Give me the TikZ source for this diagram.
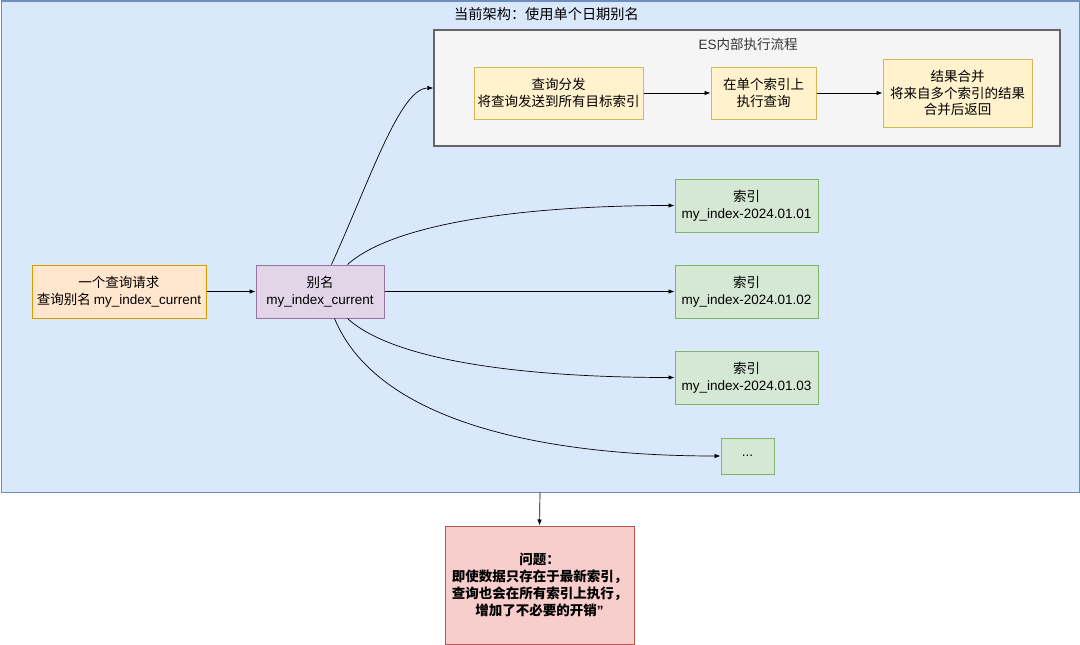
\documentclass[tikz,border=0pt]{standalone}
\usepackage{fontspec}
\setmainfont{Noto Sans CJK SC}
\newfontfamily\lat{Liberation Sans}
\usetikzlibrary{arrows.meta}
\definecolor{bluefill}{HTML}{DAE8FC}
\definecolor{bluestroke}{HTML}{6C8EBF}
\definecolor{grayfill}{HTML}{F5F5F5}
\definecolor{graystroke}{HTML}{666666}
\definecolor{graytext}{HTML}{333333}
\definecolor{yelfill}{HTML}{FFF2CC}
\definecolor{yelstroke}{HTML}{D6B656}
\definecolor{orfill}{HTML}{FFE6CC}
\definecolor{orstroke}{HTML}{D79B00}
\definecolor{purfill}{HTML}{E1D5E7}
\definecolor{purstroke}{HTML}{9673A6}
\definecolor{grnfill}{HTML}{D5E8D4}
\definecolor{grnstroke}{HTML}{82B366}
\definecolor{redfill}{HTML}{F8CECC}
\definecolor{redstroke}{HTML}{B85450}
\tikzset{
  box/.style={draw, line width=1pt, align=center, inner sep=0pt, font=\fontsize{13.5}{16.5}\selectfont},
  yel/.style={box, fill=yelfill, draw=yelstroke},
  grn/.style={box, fill=grnfill, draw=grnstroke, minimum width=143, minimum height=53},
  conn/.style={line width=0.7pt, -{Latex[length=6pt,width=4.5pt]}},
  lbl/.style={inner sep=0pt, font=\fontsize{13.5}{16.5}\selectfont}
}
\begin{document}
\begin{tikzpicture}[x=1pt,y=-1pt]
\useasboundingbox (0,0) rectangle (1080,645);
\node[draw=bluestroke, fill=bluefill, line width=1pt, minimum width=1078, minimum height=491, inner sep=0pt] (outer) at (540,246.5) {};
\node[lbl, font=\fontsize{14.2}{16.5}\selectfont] (title) at (546.5,14) {当前架构：使用单个日期别名};
\node[draw=graystroke, fill=grayfill, line width=1.2pt, minimum width=626, minimum height=116, inner sep=0pt] (gray) at (747,88) {};
\node[lbl, text=graytext] (graytitle) at (748,44) {{\lat ES}内部执行流程};
\node[yel, minimum width=169, minimum height=52] (A) at (558.5,93) {查询分发\\将查询发送到所有目标索引};
\node[yel, minimum width=105, minimum height=52] (B) at (763.5,93) {在单个索引上\\执行查询};
\node[yel, minimum width=149, minimum height=68] (C) at (957.5,93) {结果合并\\将来自多个索引的结果\\合并后返回};
\node[box, fill=orfill, draw=orstroke, minimum width=174, minimum height=53] (req) at (119,291.5) {一个查询请求\\查询别名 {\lat my\_index\_current}};
\node[box, fill=purfill, draw=purstroke, minimum width=128, minimum height=53] (alias) at (320,291.5) {别名\\{\lat my\_index\_current}};
\node[grn] (i1) at (746.5,205.5) {索引\\{\lat my\_index-2024.01.01}};
\node[grn] (i2) at (746.5,291.5) {索引\\{\lat my\_index-2024.01.02}};
\node[grn] (i3) at (746.5,377.5) {索引\\{\lat my\_index-2024.01.03}};
\node[box, fill=grnfill, draw=grnstroke, minimum width=53, minimum height=36] (dots) at (747.5,456) {{\lat ...}};
\node[box, fill=redfill, draw=redstroke, minimum width=189, minimum height=118, font=\fontsize{13.5}{17.2}\selectfont\bfseries] (prob) at (539.5,585) {问题：\\即使数据只存在于最新索引，\\查询也会在所有索引上执行，\\增加了不必要的开销{\lat ”}};
\draw[conn] (A.east) -- (B.west);
\draw[conn] (B.east) -- (C.west);
\draw[conn] (req.east) -- (alias.west);
\draw[conn] (alias.east) -- (i2.west);
\draw[conn] (alias.north east) ++(-53,0) coordinate (s0) .. controls (370,180) and (400,88) .. (gray.west);
\draw[conn] (alias.north east) ++(-37,0) coordinate (s1) .. controls (395,222) and (530,205.5) .. (i1.west);
\draw[conn] (alias.south east) ++(-37,0) coordinate (s3) .. controls (395,362) and (530,377.5) .. (i3.west);
\draw[conn] (alias.south east) ++(-50,0) coordinate (s4) .. controls (380,428) and (560,456) .. (dots.west);
\draw[conn] (outer.south) -- (prob.north);
\end{tikzpicture}
\end{document}
